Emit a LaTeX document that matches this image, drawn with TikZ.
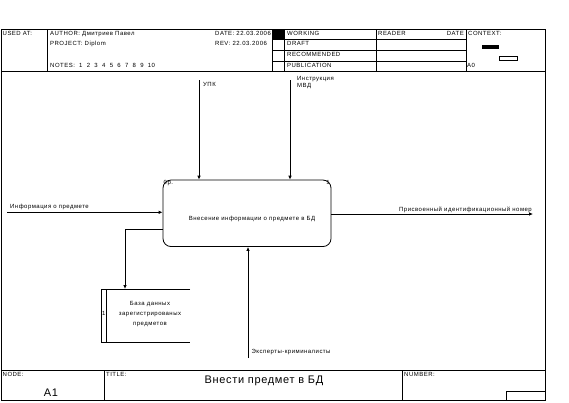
\documentclass[tikz,border=0pt]{standalone}
\usepackage{fontspec}
\setmainfont{Liberation Sans}[LetterSpace=6]
\newfontfamily\idefFont{Liberation Sans}[LetterSpace=8]
\usetikzlibrary{arrows.meta,positioning}

\tikzset{
    lbl/.style={font=\idefFont\fontsize{6}{7}\selectfont, inner sep=0pt, anchor=base west},
    lblc/.style={lbl, anchor=base},
    lble/.style={lbl, anchor=base east},
    frameline/.style={line width=0.8pt},
    arr/.style={line width=0.8pt, -{Latex[length=4pt,width=3.6pt]}},
    activity/.style={draw, line width=0.8pt, rounded corners=8pt,
        minimum width=168pt, minimum height=66.5pt, inner sep=0pt}
}

\begin{document}
\begin{tikzpicture}[x=1pt,y=-1pt]
    \useasboundingbox (0,0) rectangle (569,402);

    % Draw frame
    \draw[frameline] (1,29) rectangle (545,400);
    \draw[frameline] (1,71.5) -- (545,71.5);
    \draw[frameline] (1,370) -- (545,370);
    \foreach \x in {47,272,284,376,466}
        \draw[frameline] (\x,29) -- (\x,71.5);
    \foreach \y in {39.5,50,61}
        \draw[frameline] (272,\y) -- (466,\y);
    \fill (272,29) rectangle (284,39.5);
    \draw[frameline] (104,370) -- (104,400);
    \draw[frameline] (402,370) -- (402,400);
    \draw[frameline] (506,391) rectangle (545,400);

    % Context marks
    \fill (482,45) rectangle (499,49);
    \draw[frameline] (499,56) rectangle (517,60);

    % Header texts
    \node[lbl] (usedAt) at (2.5,35.5) {USED AT:};
    \node[lbl] (author) at (50,35.5) {AUTHOR: Дмитриев Павел};
    \node[lbl] (project) at (50,45) {PROJECT: Diplom};
    \node[lbl] (notes) at (50,67.5) {NOTES:\ \ 1\ \ 2\ \ 3\ \ 4\ \ 5\ \ 6\ \ 7\ \ 8\ \ 9\ \ 10};
    \node[lbl] (date) at (215,35.5) {DATE: 22.03.2006};
    \node[lbl] (rev) at (215,45) {REV: 22.03.2006};
    \node[lbl] (working) at (287,35.5) {WORKING};
    \node[lbl] (draft) at (287,45.5) {DRAFT};
    \node[lbl] (recommended) at (287,56) {RECOMMENDED};
    \node[lbl] (publication) at (287,67) {PUBLICATION};
    \node[lbl] (reader) at (378,35.5) {READER};
    \node[lble] (readerDate) at (464,35.5) {DATE};
    \node[lbl] (context) at (468,35.5) {CONTEXT:};
    \node[lbl] (ctxNode) at (467,67) {A0};

    % Activity box
    \node[activity] (act) at (247,213.3) {};
    \node[lblc] (actText) at (252,220) {Внесение информации о предмете в БД};
    \node[lbl] (actCost) at (163.5,184) {0р.};
    \node[lble] (actNum) at (330,184) {1};

    % Data store
    \draw[frameline] (190,289) -- (101,289) -- (101,342) -- (190,342);
    \draw[frameline] (106,289) -- (106,342);
    \node[lbl] (storeNum) at (102,315.7) {1};
    \node[lblc] (store1) at (150,305.7) {База данных};
    \node[lblc] (store2) at (150,315.7) {зарегистрированых};
    \node[lblc] (store3) at (150,325.7) {предметов};
    \coordinate (storeTop) at (125,289);

    % Controls
    \coordinate (upkTop) at (199,80);
    \coordinate (mvdTop) at (290,80);
    \draw[arr] (upkTop) -- (upkTop |- act.north);
    \draw[arr] (mvdTop) -- (mvdTop |- act.north);
    \node[lbl] (upk) at (203,86) {УПК};
    \node[lbl] (mvd1) at (297,80.5) {Инструкция};
    \node[lbl] (mvd2) at (297,87) {МВД};

    % Input
    \coordinate (inStart) at (7,212.3);
    \draw[arr] (inStart) -- (inStart -| act.west);
    \node[lbl] (inLabel) at (10,208) {Информация о предмете};

    % Outputs
    \coordinate (outEnd) at (533,214);
    \draw[arr] (act.east |- outEnd) -- (outEnd);
    \node[lble] (outLabel) at (532,211.5) {Присвоенный идентификационный номер};
    \coordinate (storeBend) at (125,229.5);
    \draw[arr] (act.west |- storeBend) -| (storeTop);

    % Mechanism
    \coordinate (mechStart) at (248,358);
    \draw[arr] (mechStart) -- (mechStart |- act.south);
    \node[lbl] (mech) at (251.5,353.3) {Эксперты-криминалисты};

    % Footer texts
    \node[lbl] (nodeLbl) at (2.5,376) {NODE:};
    \node[lbl] (titleLbl) at (106,376) {TITLE:};
    \node[lbl] (numberLbl) at (404,376) {NUMBER:};
    \node[font=\fontsize{11}{13}\selectfont, inner sep=0pt, anchor=base] (title) at (264,383.6) {Внести предмет в БД};
    \node[font=\fontsize{11}{13}\selectfont, inner sep=0pt, anchor=base] (nodeId) at (51,396) {A1};

\end{tikzpicture}
\end{document}
